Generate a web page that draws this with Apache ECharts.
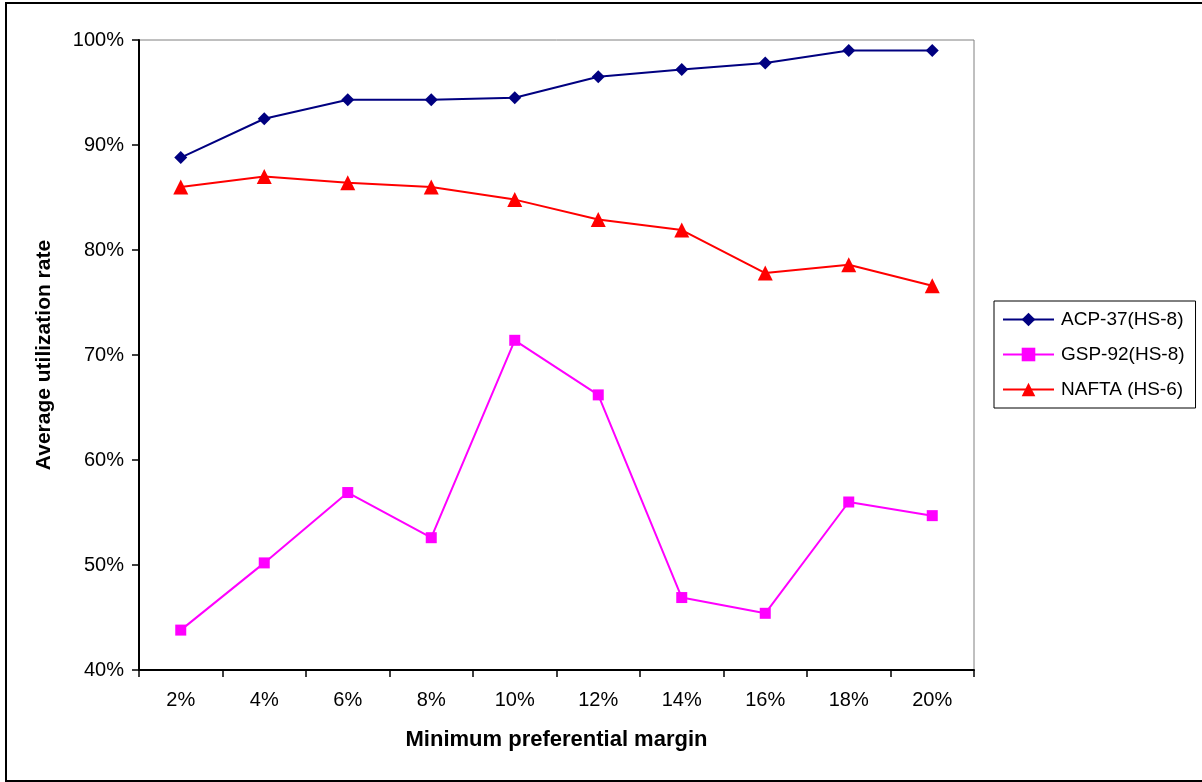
<!DOCTYPE html>
<html>
<head>
<meta charset="utf-8">
<script src="https://cdn.jsdelivr.net/npm/echarts@6/dist/echarts.min.js"></script>
<style>
html,body{margin:0;padding:0;background:#fff;}
#frame{position:absolute;left:5px;top:2px;width:1210px;height:776px;border:2px solid #000;box-sizing:content-box;}
#c{position:absolute;left:0;top:0;width:1202px;height:782px;}
</style>
</head>
<body>
<div id="frame"></div>
<div id="c"></div>
<script>
var categories = ['2%','4%','6%','8%','10%','12%','14%','16%','18%','20%'];
var acp37 = [0.888,0.925,0.943,0.943,0.945,0.965,0.972,0.978,0.990,0.990];
var gsp92 = [0.438,0.502,0.569,0.526,0.714,0.662,0.469,0.454,0.560,0.547];
var nafta = [0.860,0.870,0.864,0.860,0.848,0.829,0.819,0.778,0.786,0.766];
var seriesNames = ['ACP-37(HS-8)','GSP-92(HS-8)','NAFTA (HS-6)'];

var chart = echarts.init(document.getElementById('c'), null, {renderer:'canvas'});
var font = 'Liberation Sans, Arial, sans-serif';
chart.setOption({
  backgroundColor: 'transparent',
  animation: false,
  grid: {left:139, top:40, right:228, bottom:112, show:true, borderColor:'#808080', borderWidth:1, backgroundColor:'transparent'},
  legend: {
    orient:'vertical', left:994, top:301,
    padding:[9,11,9,8], itemGap:16,
    itemWidth:51, itemHeight:17,
    borderColor:'#000', borderWidth:1,
    textStyle:{fontFamily:font, fontSize:19, color:'#000', padding:[0,0,0,2]},
    data: seriesNames
  },
  xAxis: {
    type:'category', data:categories, boundaryGap:true,
    name:'Minimum preferential margin', nameLocation:'middle', nameGap:59,
    nameTextStyle:{fontFamily:font, fontSize:22, fontWeight:'bold', color:'#000'},
    axisLine:{lineStyle:{color:'#000', width:2}},
    axisTick:{show:true, length:7, lineStyle:{color:'#000', width:1.5}},
    axisLabel:{fontFamily:font, fontSize:20, color:'#000', margin:20}
  },
  yAxis: {
    type:'value', min:0.4, max:1.0, interval:0.1,
    name:'Average utilization rate', nameLocation:'middle', nameGap:84, nameRotate:90,
    nameTextStyle:{fontFamily:font, fontSize:21, fontWeight:'bold', color:'#000'},
    axisLine:{show:true, lineStyle:{color:'#000', width:2}},
    axisTick:{show:true, length:7, lineStyle:{color:'#000', width:1.5}},
    splitLine:{show:false},
    axisLabel:{fontFamily:font, fontSize:20, color:'#000', margin:15,
      formatter:function(v){return Math.round(v*100)+'%';}}
  },
  series: [
    {name:seriesNames[0], type:'line', data:acp37, symbol:'diamond', symbolSize:13,
     itemStyle:{color:'#000080'}, lineStyle:{color:'#000080', width:2}},
    {name:seriesNames[1], type:'line', data:gsp92, symbol:'rect', symbolSize:11,
     itemStyle:{color:'#FF00FF'}, lineStyle:{color:'#FF00FF', width:2}},
    {name:seriesNames[2], type:'line', data:nafta, symbol:'triangle', symbolSize:15,
     itemStyle:{color:'#FF0000'}, lineStyle:{color:'#FF0000', width:2}}
  ]
});
</script>
</body>
</html>
